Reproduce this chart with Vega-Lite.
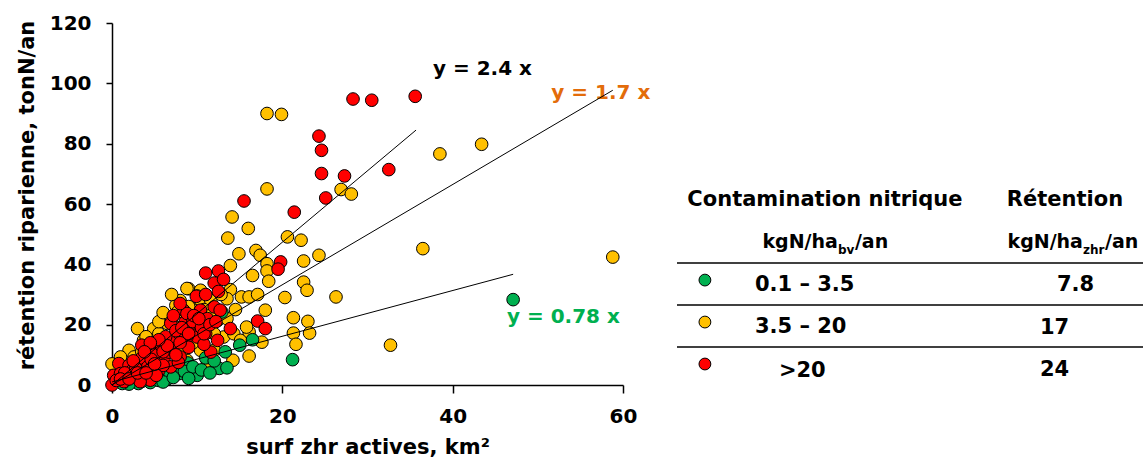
{
  "$schema": "https://vega.github.io/schema/vega-lite/v6.json",
  "background": "white",
  "padding": {"left": 16, "top": 13, "right": 0, "bottom": 0},
  "bounds": "flush",
  "spacing": 54,
  "config": {
    "font": "DejaVu Sans",
    "view": {"stroke": null},
    "axis": {"domainColor": "black", "domainWidth": 1.5, "tickColor": "black", "tickWidth": 1.5, "grid": false,
      "labelFont": "DejaVu Sans", "labelFontWeight": "bold", "labelFontSize": 20, "labelColor": "black",
      "titleFont": "DejaVu Sans", "titleFontWeight": "bold", "titleFontSize": 21, "titleColor": "black"},
    "text": {"font": "DejaVu Sans", "fontWeight": "bold", "color": "black"}
  },
  "datasets": {
    "points": [
      {"x":18.2,"y":90.0,"classe":"3.5 – 20"},{"x":19.9,"y":89.7,"classe":"3.5 – 20"},{"x":18.2,"y":65.0,"classe":"3.5 – 20"},{"x":26.9,"y":64.8,"classe":"3.5 – 20"},{"x":28.1,"y":63.3,"classe":"3.5 – 20"},{"x":38.5,"y":76.6,"classe":"3.5 – 20"},{"x":43.4,"y":79.8,"classe":"3.5 – 20"},{"x":22.2,"y":48.0,"classe":"3.5 – 20"},{"x":22.5,"y":41.1,"classe":"3.5 – 20"},{"x":24.3,"y":43.0,"classe":"3.5 – 20"},{"x":22.5,"y":34.1,"classe":"3.5 – 20"},{"x":22.9,"y":31.4,"classe":"3.5 – 20"},{"x":26.3,"y":29.2,"classe":"3.5 – 20"},{"x":36.5,"y":45.2,"classe":"3.5 – 20"},{"x":58.8,"y":42.4,"classe":"3.5 – 20"},{"x":23.0,"y":21.1,"classe":"3.5 – 20"},{"x":23.2,"y":17.2,"classe":"3.5 – 20"},{"x":14.1,"y":55.7,"classe":"3.5 – 20"},{"x":16.0,"y":51.9,"classe":"3.5 – 20"},{"x":13.6,"y":48.7,"classe":"3.5 – 20"},{"x":20.6,"y":49.1,"classe":"3.5 – 20"},{"x":14.9,"y":43.5,"classe":"3.5 – 20"},{"x":16.9,"y":44.6,"classe":"3.5 – 20"},{"x":17.4,"y":43.0,"classe":"3.5 – 20"},{"x":13.9,"y":39.6,"classe":"3.5 – 20"},{"x":18.2,"y":40.2,"classe":"3.5 – 20"},{"x":18.2,"y":37.8,"classe":"3.5 – 20"},{"x":16.5,"y":36.3,"classe":"3.5 – 20"},{"x":18.4,"y":34.4,"classe":"3.5 – 20"},{"x":20.3,"y":29.0,"classe":"3.5 – 20"},{"x":9.0,"y":31.9,"classe":"3.5 – 20"},{"x":10.4,"y":31.4,"classe":"3.5 – 20"},{"x":13.9,"y":31.6,"classe":"3.5 – 20"},{"x":15.2,"y":29.2,"classe":"3.5 – 20"},{"x":16.1,"y":29.2,"classe":"3.5 – 20"},{"x":17.1,"y":30.0,"classe":"3.5 – 20"},{"x":8.0,"y":28.0,"classe":"3.5 – 20"},{"x":10.0,"y":29.5,"classe":"3.5 – 20"},{"x":13.5,"y":28.6,"classe":"3.5 – 20"},{"x":18.0,"y":24.8,"classe":"3.5 – 20"},{"x":21.3,"y":22.3,"classe":"3.5 – 20"},{"x":21.3,"y":17.2,"classe":"3.5 – 20"},{"x":32.7,"y":13.2,"classe":"3.5 – 20"},{"x":21.6,"y":13.5,"classe":"3.5 – 20"},{"x":16.1,"y":9.6,"classe":"3.5 – 20"},{"x":14.2,"y":8.2,"classe":"3.5 – 20"},{"x":17.6,"y":14.2,"classe":"3.5 – 20"},
      {"x":0.0,"y":7.0,"classe":"3.5 – 20"},{"x":3.0,"y":18.7,"classe":"3.5 – 20"},{"x":4.9,"y":18.7,"classe":"3.5 – 20"},{"x":6.5,"y":20.4,"classe":"3.5 – 20"},{"x":7.5,"y":26.4,"classe":"3.5 – 20"},{"x":8.8,"y":32.0,"classe":"3.5 – 20"},{"x":7.7,"y":24.2,"classe":"3.5 – 20"},{"x":10.4,"y":28.0,"classe":"3.5 – 20"},{"x":11.6,"y":28.0,"classe":"3.5 – 20"},{"x":9.6,"y":24.8,"classe":"3.5 – 20"},{"x":5.5,"y":17.0,"classe":"3.5 – 20"},{"x":4.5,"y":12.6,"classe":"3.5 – 20"},{"x":3.7,"y":14.8,"classe":"3.5 – 20"},{"x":2.0,"y":11.5,"classe":"3.5 – 20"},{"x":1.0,"y":9.3,"classe":"3.5 – 20"},{"x":2.6,"y":9.3,"classe":"3.5 – 20"},{"x":11.6,"y":19.2,"classe":"3.5 – 20"},{"x":12.4,"y":21.4,"classe":"3.5 – 20"},{"x":13.1,"y":15.9,"classe":"3.5 – 20"},{"x":14.3,"y":17.0,"classe":"3.5 – 20"},{"x":15.1,"y":14.8,"classe":"3.5 – 20"},{"x":16.1,"y":17.6,"classe":"3.5 – 20"},{"x":15.8,"y":19.2,"classe":"3.5 – 20"},{"x":12.0,"y":11.5,"classe":"3.5 – 20"},{"x":10.4,"y":11.5,"classe":"3.5 – 20"},{"x":8.8,"y":8.2,"classe":"3.5 – 20"},{"x":11.2,"y":7.7,"classe":"3.5 – 20"},
      {"x":1.5,"y":5.0,"classe":"3.5 – 20"},{"x":2.5,"y":7.0,"classe":"3.5 – 20"},{"x":3.5,"y":11.0,"classe":"3.5 – 20"},{"x":4.0,"y":16.0,"classe":"3.5 – 20"},{"x":5.0,"y":14.0,"classe":"3.5 – 20"},{"x":5.5,"y":21.0,"classe":"3.5 – 20"},{"x":6.0,"y":11.0,"classe":"3.5 – 20"},{"x":6.5,"y":15.0,"classe":"3.5 – 20"},{"x":7.0,"y":22.0,"classe":"3.5 – 20"},{"x":8.0,"y":19.0,"classe":"3.5 – 20"},{"x":8.5,"y":12.0,"classe":"3.5 – 20"},{"x":9.0,"y":26.0,"classe":"3.5 – 20"},{"x":9.5,"y":14.0,"classe":"3.5 – 20"},{"x":10.0,"y":20.0,"classe":"3.5 – 20"},{"x":10.8,"y":25.0,"classe":"3.5 – 20"},{"x":11.5,"y":23.0,"classe":"3.5 – 20"},{"x":12.0,"y":17.0,"classe":"3.5 – 20"},{"x":12.8,"y":30.0,"classe":"3.5 – 20"},{"x":13.5,"y":22.0,"classe":"3.5 – 20"},{"x":14.5,"y":25.0,"classe":"3.5 – 20"},{"x":7.0,"y":30.0,"classe":"3.5 – 20"},{"x":6.0,"y":24.0,"classe":"3.5 – 20"},
      {"x":47.1,"y":28.3,"classe":"0.1 – 3.5"},{"x":21.2,"y":8.4,"classe":"0.1 – 3.5"},{"x":16.5,"y":15.0,"classe":"0.1 – 3.5"},{"x":15.0,"y":13.2,"classe":"0.1 – 3.5"},{"x":13.3,"y":11.0,"classe":"0.1 – 3.5"},{"x":12.6,"y":5.5,"classe":"0.1 – 3.5"},{"x":13.5,"y":5.7,"classe":"0.1 – 3.5"},{"x":10.0,"y":3.2,"classe":"0.1 – 3.5"},{"x":8.9,"y":7.3,"classe":"0.1 – 3.5"},{"x":12.9,"y":24.2,"classe":"0.1 – 3.5"},{"x":3.1,"y":0.5,"classe":"0.1 – 3.5"},{"x":4.5,"y":0.8,"classe":"0.1 – 3.5"},{"x":6.5,"y":2.0,"classe":"0.1 – 3.5"},{"x":7.9,"y":3.8,"classe":"0.1 – 3.5"},{"x":5.5,"y":1.5,"classe":"0.1 – 3.5"},{"x":2.0,"y":0.3,"classe":"0.1 – 3.5"},{"x":1.2,"y":0.5,"classe":"0.1 – 3.5"},{"x":8.5,"y":4.5,"classe":"0.1 – 3.5"},{"x":6.8,"y":4.0,"classe":"0.1 – 3.5"},{"x":9.5,"y":6.0,"classe":"0.1 – 3.5"},{"x":11.0,"y":9.0,"classe":"0.1 – 3.5"},
      {"x":3.5,"y":1.2,"classe":"0.1 – 3.5"},{"x":6.0,"y":1.0,"classe":"0.1 – 3.5"},{"x":7.2,"y":2.5,"classe":"0.1 – 3.5"},{"x":9.0,"y":2.2,"classe":"0.1 – 3.5"},{"x":10.5,"y":5.0,"classe":"0.1 – 3.5"},{"x":11.5,"y":4.0,"classe":"0.1 – 3.5"},{"x":12.0,"y":8.0,"classe":"0.1 – 3.5"},
      {"x":28.3,"y":94.8,"classe":">20"},{"x":30.5,"y":94.4,"classe":">20"},{"x":35.6,"y":95.7,"classe":">20"},{"x":24.3,"y":82.5,"classe":">20"},{"x":24.6,"y":77.8,"classe":">20"},{"x":24.6,"y":70.1,"classe":">20"},{"x":27.3,"y":69.3,"classe":">20"},{"x":32.5,"y":71.4,"classe":">20"},{"x":25.1,"y":62.0,"classe":">20"},{"x":15.5,"y":61.0,"classe":">20"},{"x":21.4,"y":57.3,"classe":">20"},{"x":19.8,"y":40.8,"classe":">20"},{"x":19.5,"y":38.4,"classe":">20"},{"x":11.0,"y":37.1,"classe":">20"},{"x":12.5,"y":37.8,"classe":">20"},{"x":12.0,"y":33.8,"classe":">20"},{"x":13.1,"y":35.0,"classe":">20"},{"x":9.9,"y":29.4,"classe":">20"},{"x":17.1,"y":21.2,"classe":">20"},{"x":18.0,"y":18.7,"classe":">20"},{"x":13.9,"y":18.7,"classe":">20"},
      {"x":0.2,"y":3.2,"classe":">20"},{"x":0.8,"y":7.1,"classe":">20"},{"x":2.0,"y":6.5,"classe":">20"},{"x":2.4,"y":4.9,"classe":">20"},{"x":2.6,"y":2.7,"classe":">20"},{"x":3.5,"y":13.2,"classe":">20"},{"x":3.9,"y":8.2,"classe":">20"},{"x":4.1,"y":10.9,"classe":">20"},{"x":4.9,"y":12.6,"classe":">20"},{"x":5.5,"y":4.9,"classe":">20"},{"x":6.1,"y":8.2,"classe":">20"},{"x":6.7,"y":10.9,"classe":">20"},{"x":6.9,"y":20.4,"classe":">20"},{"x":7.3,"y":14.8,"classe":">20"},{"x":8.0,"y":9.3,"classe":">20"},{"x":8.4,"y":24.8,"classe":">20"},{"x":8.6,"y":20.9,"classe":">20"},{"x":8.8,"y":23.7,"classe":">20"},{"x":9.2,"y":19.2,"classe":">20"},{"x":9.8,"y":16.5,"classe":">20"},{"x":10.4,"y":24.8,"classe":">20"},{"x":11.2,"y":22.0,"classe":">20"},{"x":11.6,"y":10.9,"classe":">20"},{"x":12.0,"y":25.9,"classe":">20"},{"x":12.4,"y":14.8,"classe":">20"},{"x":12.7,"y":24.8,"classe":">20"},{"x":10.0,"y":15.9,"classe":">20"},{"x":8.8,"y":15.9,"classe":">20"},{"x":7.9,"y":17.0,"classe":">20"},{"x":6.9,"y":6.0,"classe":">20"},{"x":4.5,"y":1.6,"classe":">20"},{"x":3.3,"y":1.1,"classe":">20"},{"x":1.4,"y":1.1,"classe":">20"},{"x":1.0,"y":3.8,"classe":">20"},{"x":0.0,"y":0.0,"classe":">20"},
      {"x":0.5,"y":1.5,"classe":">20"},{"x":1.5,"y":4.0,"classe":">20"},{"x":3.0,"y":7.0,"classe":">20"},{"x":3.5,"y":9.0,"classe":">20"},{"x":4.2,"y":6.0,"classe":">20"},{"x":5.0,"y":10.0,"classe":">20"},{"x":5.8,"y":13.0,"classe":">20"},{"x":6.3,"y":16.0,"classe":">20"},{"x":7.0,"y":12.0,"classe":">20"},{"x":7.5,"y":18.0,"classe":">20"},{"x":9.5,"y":21.0,"classe":">20"},{"x":10.5,"y":19.0,"classe":">20"},{"x":11.0,"y":17.0,"classe":">20"},{"x":2.8,"y":5.5,"classe":">20"},{"x":4.6,"y":8.5,"classe":">20"},{"x":6.0,"y":6.5,"classe":">20"},{"x":7.8,"y":7.5,"classe":">20"},{"x":9.0,"y":12.5,"classe":">20"},{"x":10.8,"y":13.5,"classe":">20"},{"x":5.2,"y":3.2,"classe":">20"},
      {"x":1.0,"y":2.0,"classe":">20"},{"x":2.0,"y":2.0,"classe":">20"},{"x":3.0,"y":4.0,"classe":">20"},{"x":4.0,"y":4.0,"classe":">20"},{"x":5.0,"y":7.0,"classe":">20"},{"x":6.0,"y":11.0,"classe":">20"},{"x":6.5,"y":13.0,"classe":">20"},{"x":7.5,"y":10.0,"classe":">20"},{"x":8.0,"y":14.0,"classe":">20"},{"x":8.2,"y":19.0,"classe":">20"},{"x":9.0,"y":17.0,"classe":">20"},{"x":9.6,"y":23.0,"classe":">20"},{"x":10.2,"y":22.0,"classe":">20"},{"x":10.8,"y":17.0,"classe":">20"},{"x":11.5,"y":20.0,"classe":">20"},{"x":12.2,"y":21.0,"classe":">20"},{"x":5.5,"y":15.0,"classe":">20"},{"x":4.5,"y":14.0,"classe":">20"},{"x":3.8,"y":11.0,"classe":">20"},{"x":2.5,"y":8.0,"classe":">20"},{"x":7.2,"y":23.0,"classe":">20"},{"x":8.0,"y":27.0,"classe":">20"},{"x":11.0,"y":30.0,"classe":">20"},{"x":12.5,"y":31.0,"classe":">20"}
    ],
    "lines": [
      {"eq":"2.4","x":0,"y":0},{"eq":"2.4","x":35.7,"y":84.5},
      {"eq":"1.7","x":0,"y":0},{"eq":"1.7","x":58.8,"y":97.7},
      {"eq":"0.78","x":0,"y":1.0},{"eq":"0.78","x":47.1,"y":36.7}
    ]
  },
  "hconcat": [
    {
      "width": 511,
      "height": 362,
      "layer": [
        {
          "data": {"name": "points"},
          "mark": {"type": "circle", "size": 160, "opacity": 1, "stroke": "black", "strokeWidth": 1},
          "encoding": {
            "x": {"field": "x", "type": "quantitative",
              "scale": {"domain": [0, 60], "nice": false},
              "axis": {"values": [0, 20, 40, 60], "title": "surf zhr actives, km²", "tickSize": 8, "labelPadding": 13, "titlePadding": 10, "labelFlush": false, "labelOverlap": false}},
            "y": {"field": "y", "type": "quantitative",
              "scale": {"domain": [0, 120], "nice": false},
              "axis": {"values": [0, 20, 40, 60, 80, 100, 120], "title": "rétention riparienne, tonN/an", "tickSize": 6, "labelPadding": 15, "titlePadding": 12, "titleY": 172, "labelFlush": false, "labelOverlap": false}},
            "fill": {"field": "classe", "type": "nominal",
              "scale": {"domain": ["0.1 – 3.5", "3.5 – 20", ">20"], "range": ["#00B050", "#FFC000", "#FF0000"]},
              "legend": null}
          }
        },
        {
          "data": {"values": [{"label": "y = 2.4 x", "x": 43.5, "y": 102.9}]},
          "mark": {"type": "text", "fontSize": 20, "fontWeight": "bold", "align": "center", "baseline": "alphabetic", "color": "black"},
          "encoding": {"x": {"field": "x", "type": "quantitative"}, "y": {"field": "y", "type": "quantitative"}, "text": {"field": "label"}}
        },
        {
          "data": {"values": [{"label": "y = 1.7 x", "x": 57.4, "y": 94.9}]},
          "mark": {"type": "text", "fontSize": 20, "fontWeight": "bold", "align": "center", "baseline": "alphabetic", "color": "#E36C0A"},
          "encoding": {"x": {"field": "x", "type": "quantitative"}, "y": {"field": "y", "type": "quantitative"}, "text": {"field": "label"}}
        },
        {
          "data": {"values": [{"label": "y = 0.78 x", "x": 53.0, "y": 20.5}]},
          "mark": {"type": "text", "fontSize": 20, "fontWeight": "bold", "align": "center", "baseline": "alphabetic", "color": "#00B050"},
          "encoding": {"x": {"field": "x", "type": "quantitative"}, "y": {"field": "y", "type": "quantitative"}, "text": {"field": "label"}}
        },
        {
          "data": {"name": "lines"},
          "mark": {"type": "line", "color": "black", "strokeWidth": 1},
          "encoding": {"x": {"field": "x", "type": "quantitative"}, "y": {"field": "y", "type": "quantitative"}, "detail": {"field": "eq", "type": "nominal"}}
        }
      ]
    },
    {
      "width": 466,
      "height": 366,
      "layer": [
        {
          "data": {"values": [{"row": "r1"}, {"row": "r2"}, {"row": "r3"}]},
          "mark": {"type": "rule", "color": "black", "strokeWidth": 1.5},
          "encoding": {
            "y": {"field": "row", "type": "nominal", "bandPosition": 0,
              "scale": {"type": "band", "domain": ["e1", "e2", "e3", "h", "s", "r1", "r2", "r3"], "paddingInner": 0, "paddingOuter": 0.36, "align": 1},
              "axis": null}
          }
        },
        {
          "data": {"values": [{"row": "h", "col": "classe", "t": "Contamination nitrique"}]},
          "mark": {"type": "text", "fontSize": 21, "align": "center", "baseline": "middle"},
          "encoding": {
            "x": {"field": "col", "type": "nominal", "scale": {"type": "point", "domain": ["classe", "retention"], "padding": 0.483, "align": 0.646}, "axis": null},
            "y": {"field": "row", "type": "nominal", "axis": null},
            "text": {"field": "t"}
          }
        },
        {
          "data": {"values": [{"row": "h", "col": "retention", "t": "Rétention"}]},
          "mark": {"type": "text", "fontSize": 21, "align": "center", "baseline": "middle", "dx": 3},
          "encoding": {"x": {"field": "col", "type": "nominal"}, "y": {"field": "row", "type": "nominal"}, "text": {"field": "t"}}
        },
        {
          "data": {"values": [{"row": "s", "col": "classe", "t": "kgN/ha"}]},
          "mark": {"type": "text", "fontSize": 19, "align": "right", "baseline": "middle", "dx": 13},
          "encoding": {"x": {"field": "col", "type": "nominal"}, "y": {"field": "row", "type": "nominal"}, "text": {"field": "t"}}
        },
        {
          "data": {"values": [{"row": "s", "col": "classe", "t": "bv"}]},
          "mark": {"type": "text", "fontSize": 12, "align": "left", "baseline": "middle", "dx": 13, "dy": 8},
          "encoding": {"x": {"field": "col", "type": "nominal"}, "y": {"field": "row", "type": "nominal"}, "text": {"field": "t"}}
        },
        {
          "data": {"values": [{"row": "s", "col": "classe", "t": "/an"}]},
          "mark": {"type": "text", "fontSize": 19, "align": "left", "baseline": "middle", "dx": 30},
          "encoding": {"x": {"field": "col", "type": "nominal"}, "y": {"field": "row", "type": "nominal"}, "text": {"field": "t"}}
        },
        {
          "data": {"values": [{"row": "s", "col": "retention", "t": "kgN/ha"}]},
          "mark": {"type": "text", "fontSize": 19, "align": "right", "baseline": "middle", "dx": 21},
          "encoding": {"x": {"field": "col", "type": "nominal"}, "y": {"field": "row", "type": "nominal"}, "text": {"field": "t"}}
        },
        {
          "data": {"values": [{"row": "s", "col": "retention", "t": "zhr"}]},
          "mark": {"type": "text", "fontSize": 12, "align": "left", "baseline": "middle", "dx": 21, "dy": 8},
          "encoding": {"x": {"field": "col", "type": "nominal"}, "y": {"field": "row", "type": "nominal"}, "text": {"field": "t"}}
        },
        {
          "data": {"values": [{"row": "s", "col": "retention", "t": "/an"}]},
          "mark": {"type": "text", "fontSize": 19, "align": "left", "baseline": "middle", "dx": 43},
          "encoding": {"x": {"field": "col", "type": "nominal"}, "y": {"field": "row", "type": "nominal"}, "text": {"field": "t"}}
        },
        {
          "data": {"values": [
            {"row": "r1", "col": "classe", "classe": "0.1 – 3.5"},
            {"row": "r2", "col": "classe", "classe": "3.5 – 20"},
            {"row": "r3", "col": "classe", "classe": ">20"}
          ]},
          "mark": {"type": "circle", "size": 140, "opacity": 1, "stroke": "black", "strokeWidth": 1, "xOffset": -120, "yOffset": -4},
          "encoding": {
            "x": {"field": "col", "type": "nominal"},
            "y": {"field": "row", "type": "nominal"},
            "fill": {"field": "classe", "type": "nominal", "scale": {"domain": ["0.1 – 3.5", "3.5 – 20", ">20"], "range": ["#00B050", "#FFC000", "#FF0000"]}, "legend": null}
          }
        },
        {
          "data": {"values": [
            {"row": "r1", "col": "classe", "t": "0.1 – 3.5"},
            {"row": "r2", "col": "classe", "t": "3.5 – 20"}
          ]},
          "mark": {"type": "text", "fontSize": 21, "align": "left", "baseline": "middle", "dx": -70, "dy": 1},
          "encoding": {"x": {"field": "col", "type": "nominal"}, "y": {"field": "row", "type": "nominal"}, "text": {"field": "t"}}
        },
        {
          "data": {"values": [
            {"row": "r3", "col": "classe", "t": ">20"}
          ]},
          "mark": {"type": "text", "fontSize": 21, "align": "left", "baseline": "middle", "dx": -46, "dy": 3},
          "encoding": {"x": {"field": "col", "type": "nominal"}, "y": {"field": "row", "type": "nominal"}, "text": {"field": "t"}}
        },
        {
          "data": {"values": [
            {"row": "r1", "col": "retention", "t": "7.8"}
          ]},
          "mark": {"type": "text", "fontSize": 21, "align": "left", "baseline": "middle", "dx": -5, "dy": 1},
          "encoding": {"x": {"field": "col", "type": "nominal"}, "y": {"field": "row", "type": "nominal"}, "text": {"field": "t"}}
        },
        {
          "data": {"values": [
            {"row": "r2", "col": "retention", "t": "17"},
            {"row": "r3", "col": "retention", "t": "24"}
          ]},
          "mark": {"type": "text", "fontSize": 21, "align": "left", "baseline": "middle", "dx": -22, "dy": 2},
          "encoding": {"x": {"field": "col", "type": "nominal"}, "y": {"field": "row", "type": "nominal"}, "text": {"field": "t"}}
        }
      ]
    }
  ]
}
